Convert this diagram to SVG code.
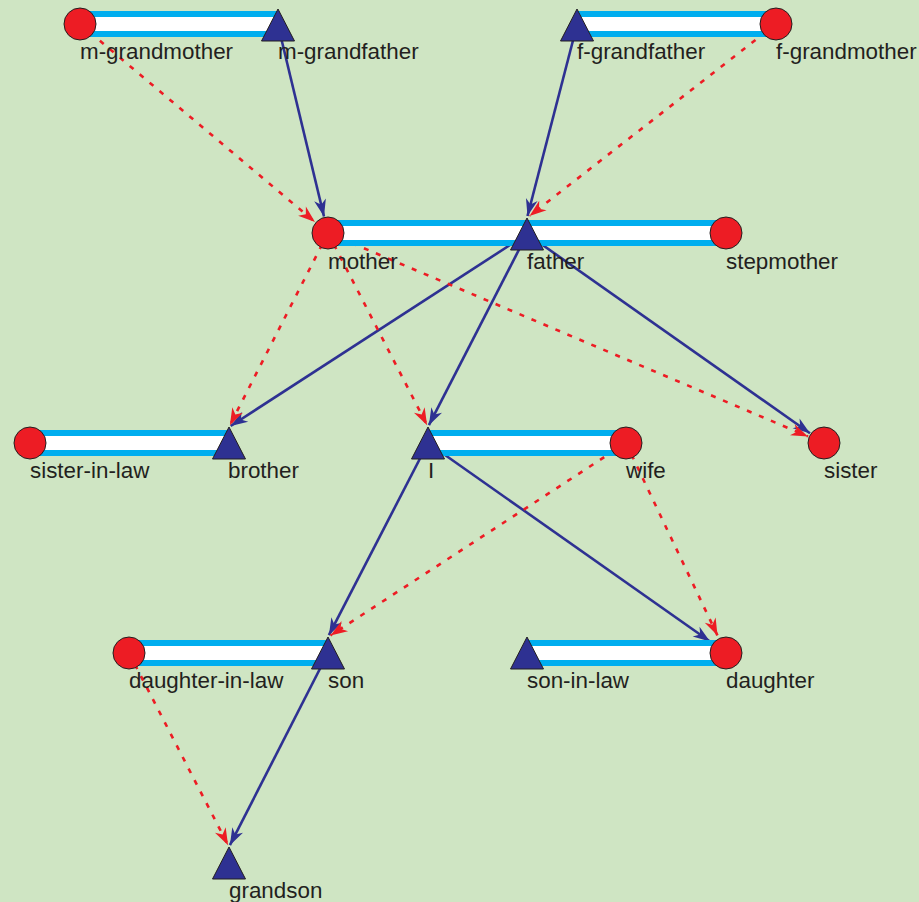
<svg xmlns="http://www.w3.org/2000/svg" width="919" height="902" viewBox="0 0 919 902">
<defs>
<style>
.lbl{font-family:"Liberation Sans",Arial,sans-serif;font-size:22.4px;fill:#231f20}
.f{fill:#ed1c24;stroke:#231f20;stroke-width:1}
.m{fill:#2e3192;stroke:#231f20;stroke-width:1}
.pb{stroke:#2e3192;stroke-width:2.6;fill:none;marker-end:url(#ab)}
.pr{stroke:#ed1c24;stroke-width:2.6;fill:none;stroke-dasharray:5 8;marker-end:url(#ar)}
.bo{fill:#00aeef}
.bi{fill:#ffffff}
</style>
<marker id="ab" markerUnits="userSpaceOnUse" markerWidth="19" markerHeight="14" viewBox="-17 -7 19 14" refX="0" refY="0" orient="auto" overflow="visible"><path d="M0,0 L-17,-6 L-12,0 L-17,6 Z" fill="#2e3192"/></marker>
<marker id="ar" markerUnits="userSpaceOnUse" markerWidth="19" markerHeight="14" viewBox="-17 -7 19 14" refX="0" refY="0" orient="auto" overflow="visible"><path d="M0,0 L-17,-6 L-12,0 L-17,6 Z" fill="#ed1c24"/></marker>
</defs>
<rect x="0" y="0" width="919" height="902" fill="#cfe5c3"/>
<g id="connectors">
<line class="pr" x1="80" y1="24" x2="315" y2="222"/>
<line class="pb" x1="278" y1="25" x2="324" y2="216.5"/>
<line class="pb" x1="577" y1="25" x2="527.5" y2="216"/>
<line class="pr" x1="776" y1="24" x2="529.5" y2="216"/>
<line class="pb" x1="527" y1="234" x2="230.7" y2="426"/>
<line class="pb" x1="527" y1="234" x2="428.9" y2="425.2"/>
<line class="pb" x1="527" y1="234" x2="810" y2="433.2"/>
<line class="pr" x1="328" y1="233" x2="229.9" y2="425.2"/>
<line class="pr" x1="328" y1="233" x2="427.1" y2="425.2"/>
<line class="pr" x1="328" y1="233" x2="808" y2="436.4"/>
<line class="pb" x1="428" y1="443" x2="328.9" y2="635.2"/>
<line class="pb" x1="428" y1="443" x2="710" y2="641.5"/>
<line class="pr" x1="626" y1="443" x2="330.5" y2="635.4"/>
<line class="pr" x1="626" y1="443" x2="717.5" y2="635.5"/>
<line class="pb" x1="328" y1="653" x2="229.9" y2="845.2"/>
<line class="pr" x1="129" y1="653" x2="228.1" y2="845.2"/>
</g>
<g id="marriages">
<rect class="bo" x="80" y="11" width="198" height="26"/><rect class="bi" x="80" y="17" width="198" height="14"/>
<rect class="bo" x="577" y="11" width="199" height="26"/><rect class="bi" x="577" y="17" width="199" height="14"/>
<rect class="bo" x="328" y="220" width="398" height="26"/><rect class="bi" x="328" y="226" width="398" height="14"/>
<rect class="bo" x="30" y="430" width="199" height="26"/><rect class="bi" x="30" y="436" width="199" height="14"/>
<rect class="bo" x="428" y="430" width="198" height="26"/><rect class="bi" x="428" y="436" width="198" height="14"/>
<rect class="bo" x="129" y="640" width="199" height="26"/><rect class="bi" x="129" y="646" width="199" height="14"/>
<rect class="bo" x="527" y="640" width="199" height="26"/><rect class="bi" x="527" y="646" width="199" height="14"/>
</g>
<g id="m-grandmother"><circle class="f" cx="80" cy="24" r="16"/><text class="lbl" x="80" y="59">m-grandmother</text></g>
<g id="m-grandfather"><polygon class="m" points="278,9 294.5,41 261.5,41"/><text class="lbl" x="278" y="59">m-grandfather</text></g>
<g id="f-grandfather"><polygon class="m" points="577,9 593.5,41 560.5,41"/><text class="lbl" x="577" y="59">f-grandfather</text></g>
<g id="f-grandmother"><circle class="f" cx="776" cy="24" r="16"/><text class="lbl" x="776" y="59">f-grandmother</text></g>
<g id="mother"><circle class="f" cx="328" cy="233" r="16"/><text class="lbl" x="328" y="269">mother</text></g>
<g id="father"><polygon class="m" points="527,218 543.5,250 510.5,250"/><text class="lbl" x="527" y="269">father</text></g>
<g id="stepmother"><circle class="f" cx="726" cy="233" r="16"/><text class="lbl" x="726" y="269">stepmother</text></g>
<g id="sister-in-law"><circle class="f" cx="30" cy="443" r="16"/><text class="lbl" x="30" y="478">sister-in-law</text></g>
<g id="brother"><polygon class="m" points="229,427 245.5,459 212.5,459"/><text class="lbl" x="228" y="478">brother</text></g>
<g id="I"><polygon class="m" points="428,427 444.5,459 411.5,459"/><text class="lbl" x="428" y="478">I</text></g>
<g id="wife"><circle class="f" cx="626" cy="443" r="16"/><text class="lbl" x="626" y="478">wife</text></g>
<g id="sister"><circle class="f" cx="824" cy="443" r="16"/><text class="lbl" x="824" y="478">sister</text></g>
<g id="daughter-in-law"><circle class="f" cx="129" cy="653" r="16"/><text class="lbl" x="129" y="688">daughter-in-law</text></g>
<g id="son"><polygon class="m" points="328,637 344.5,669 311.5,669"/><text class="lbl" x="328" y="688">son</text></g>
<g id="son-in-law"><polygon class="m" points="527,637 543.5,669 510.5,669"/><text class="lbl" x="527" y="688">son-in-law</text></g>
<g id="daughter"><circle class="f" cx="726" cy="653" r="16"/><text class="lbl" x="726" y="688">daughter</text></g>
<g id="grandson"><polygon class="m" points="229,847 245.5,879 212.5,879"/><text class="lbl" x="229" y="898">grandson</text></g>
</svg>
